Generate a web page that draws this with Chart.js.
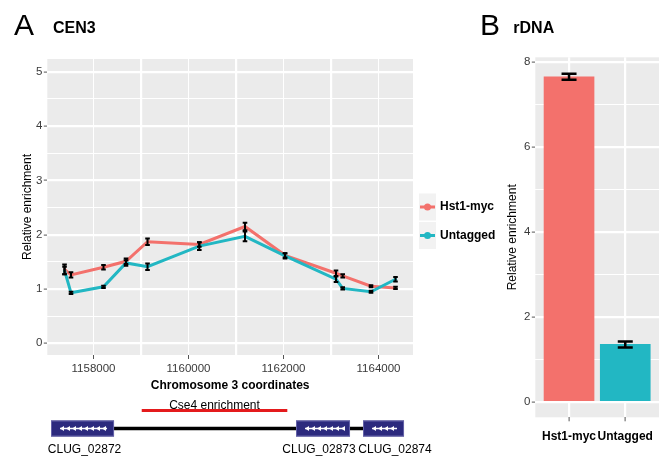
<!DOCTYPE html>
<html>
<head>
<meta charset="utf-8">
<script src="https://cdn.jsdelivr.net/npm/chart.js@4.4.1/dist/chart.umd.min.js"></script>
<style>
  body { margin: 0; background: #fff; }
  #wrap { position: relative; width: 659px; height: 456px; overflow: hidden; }
  canvas { position: absolute; top: 0; }
  #cenChart { left: 0; }
  #rdnaChart { left: 478px; }
</style>
</head>
<body>
<div id="wrap">
  <canvas id="cenChart" width="659" height="456"></canvas>
  <canvas id="rdnaChart" width="181" height="456"></canvas>
</div>
<script>
// panel A: CEN3 ChIP-qPCR across chromosome 3
const positions = [1157390, 1157526, 1158210, 1158684, 1159137, 1160227, 1161189, 1162032, 1163105, 1163246, 1163842, 1164358];
const hstVals = [1.36, 1.26, 1.40, 1.51, 1.87, 1.82, 2.15, 1.62, 1.29, 1.24, 1.05, 1.02];
const hstErr  = [0.09, 0.05, 0.04, 0.05, 0.06, 0.04, 0.07, 0.04, 0.05, 0.03, 0.02, 0.02];
const untVals = [1.34, 0.93, 1.04, 1.48, 1.41, 1.79, 1.97, 1.61, 1.18, 1.01, 0.95, 1.18];
const untErr  = [0.07, 0.02, 0.02, 0.05, 0.06, 0.07, 0.09, 0.05, 0.05, 0.02, 0.02, 0.04];
const seriesNames = ['Hst1-myc', 'Untagged'];
const xTicks = [1158000, 1159000, 1160000, 1161000, 1162000, 1163000, 1164000];
const yTicksA = [0, 0.5, 1, 1.5, 2, 2.5, 3, 3.5, 4, 4.5, 5];

// gene track under panel A (chromosome coordinates)
const geneNames = ['CLUG_02872', 'CLUG_02873', 'CLUG_02874'];
const geneStart = [1157105, 1162263, 1163674];
const geneEnd   = [1158432, 1163400, 1164537];
const geneLabelAt = [1157811, 1162747, 1164347];
const cse4Region = [1159015, 1162080];

// panel B: rDNA
const barCats = ['Hst1-myc', 'Untagged'];
const barVals = [7.66, 1.35];
const barErr  = [0.07, 0.07];
const yTicksB = [0, 1, 2, 3, 4, 5, 6, 7, 8];

const RED = '#F3716C';
const TEAL = '#22B7C3';
const FONT = '"Liberation Sans", Arial, Helvetica, sans-serif';
const isInt = v => Math.abs(v - Math.round(v)) < 1e-6;
const setTicks = vals => s => { s.ticks = vals.map(v => ({ value: v })); };

const panelBg = {
  id: 'panelBg',
  beforeDraw(chart) {
    const a = chart.chartArea, c = chart.ctx;
    c.save();
    c.fillStyle = '#EBEBEB';
    c.fillRect(a.left, a.top, a.right - a.left, a.bottom - a.top);
    c.restore();
  }
};

const errorBars = {
  id: 'errorBars',
  afterDatasetsDraw(chart, args, opts) {
    const c = chart.ctx, ys = chart.scales.y;
    c.save();
    c.strokeStyle = '#000';
    c.lineWidth = opts.width;
    chart.data.datasets.forEach((ds, i) => {
      const meta = chart.getDatasetMeta(i);
      ds.errors.forEach((e, j) => {
        const v = ds.data[j].y;
        const x = meta.data[j].x;
        const y1 = ys.getPixelForValue(v - e), y2 = ys.getPixelForValue(v + e);
        c.beginPath();
        c.moveTo(x, y1); c.lineTo(x, y2);
        c.moveTo(x - opts.cap, y1); c.lineTo(x + opts.cap, y1);
        c.moveTo(x - opts.cap, y2); c.lineTo(x + opts.cap, y2);
        c.stroke();
      });
    });
    c.restore();
  }
};

const headings = {
  id: 'headings',
  afterDraw(chart, args, opts) {
    const c = chart.ctx;
    c.save();
    c.fillStyle = '#000';
    c.textBaseline = 'alphabetic';
    c.font = '30px ' + FONT;
    c.fillText(opts.letter, opts.x, 34.5);
    c.font = 'bold 16px ' + FONT;
    c.fillText(opts.title, opts.x + opts.gap, 32.5);
    c.restore();
  }
};

const sideLegend = {
  id: 'sideLegend',
  afterDraw(chart) {
    const c = chart.ctx;
    c.save();
    chart.data.datasets.forEach((ds, i) => {
      const top = 193.5 + i * 28.5;
      const cy = top + 13.5;
      c.fillStyle = '#F2F2F2';
      c.fillRect(419, top, 17, 27);
      c.strokeStyle = ds.borderColor;
      c.lineWidth = 3;
      c.beginPath(); c.moveTo(420, cy); c.lineTo(435, cy); c.stroke();
      c.fillStyle = ds.borderColor;
      c.beginPath(); c.arc(427.5, cy, 3.5, 0, Math.PI * 2); c.fill();
      c.fillStyle = '#000';
      c.font = 'bold 12px ' + FONT;
      c.textBaseline = 'middle';
      c.fillText(ds.label, 440, cy);
    });
    c.restore();
  }
};

const geneTrack = {
  id: 'geneTrack',
  afterDraw(chart) {
    const c = chart.ctx, xs = chart.scales.x;
    const px = v => xs.getPixelForValue(v);
    c.save();
    // Cse4 region
    c.strokeStyle = '#E41A1C';
    c.lineWidth = 3;
    c.beginPath(); c.moveTo(px(cse4Region[0]), 410.5); c.lineTo(px(cse4Region[1]), 410.5); c.stroke();
    c.fillStyle = '#000';
    c.font = '12px ' + FONT;
    c.textAlign = 'center';
    c.textBaseline = 'alphabetic';
    c.fillText('Cse4 enrichment', (px(cse4Region[0]) + px(cse4Region[1])) / 2, 408.5);
    // backbone
    c.strokeStyle = '#000';
    c.lineWidth = 3.5;
    c.beginPath(); c.moveTo(px(geneEnd[0]), 428.5); c.lineTo(px(geneStart[2]), 428.5); c.stroke();
    geneNames.forEach((name, i) => {
      const x0 = px(geneStart[i]), x1 = px(geneEnd[i]);
      c.fillStyle = '#2C2A7E';
      c.fillRect(x0, 420.5, x1 - x0, 16);
      c.strokeStyle = '#6462A8';
      c.lineWidth = 1;
      c.strokeRect(x0 + 0.5, 421, x1 - x0 - 1, 15);
      // strand arrows (minus strand)
      c.strokeStyle = '#fff';
      c.fillStyle = '#fff';
      c.lineWidth = 1.5;
      const a0 = x0 + 9, a1 = x1 - 7;
      c.beginPath(); c.moveTo(a0, 428.5); c.lineTo(a1, 428.5); c.stroke();
      for (let ax = a0; ax < a1 - 2; ax += 6) {
        c.beginPath();
        c.moveTo(ax, 428.5); c.lineTo(ax + 4, 426); c.lineTo(ax + 4, 431); c.closePath();
        c.fill();
      }
      c.fillStyle = '#000';
      c.font = '12px ' + FONT;
      c.textAlign = 'center';
      c.fillText(name, px(geneLabelAt[i]), 453);
    });
    c.restore();
  }
};

new Chart(document.getElementById('cenChart'), {
  type: 'line',
  data: {
    datasets: [
      {
        label: seriesNames[0],
        data: positions.map((p, i) => ({ x: p, y: hstVals[i] })),
        errors: hstErr,
        borderColor: RED, backgroundColor: RED,
        borderWidth: 3, pointRadius: 1.5, pointBorderWidth: 0,
        tension: 0, order: 1
      },
      {
        label: seriesNames[1],
        data: positions.map((p, i) => ({ x: p, y: untVals[i] })),
        errors: untErr,
        borderColor: TEAL, backgroundColor: TEAL,
        borderWidth: 3, pointRadius: 1.5, pointBorderWidth: 0,
        tension: 0, order: 0
      }
    ]
  },
  options: {
    responsive: false,
    animation: false,
    layout: { padding: { top: 59, left: 0, right: 246, bottom: 62 } },
    plugins: {
      legend: { display: false },
      tooltip: { enabled: false },
      errorBars: { width: 2, cap: 2.3 },
      headings: { letter: 'A', title: 'CEN3', x: 14, gap: 39 }
    },
    scales: {
      x: {
        type: 'linear',
        min: 1157027, max: 1164726,
        afterBuildTicks: setTicks(xTicks),
        afterFit: s => { s.height = 39; },
        border: { display: false },
        grid: {
          color: '#fff',
          lineWidth: c => (c.tick && Math.round(c.tick.value) % 2000 === 0) ? 1 : 2.2,
          tickColor: c => (c.tick && Math.round(c.tick.value) % 2000 === 0) ? '#555' : 'rgba(0,0,0,0)',
          tickWidth: 1, tickLength: 4
        },
        ticks: {
          autoSkip: false, maxRotation: 0,
          padding: 3, color: '#3a3a3a', font: { family: FONT, size: 11.5 },
          callback: v => Math.round(v) % 2000 === 0 ? String(Math.round(v)) : ''
        },
        title: {
          display: true, text: 'Chromosome 3 coordinates', color: '#000',
          font: { family: FONT, size: 12, weight: 'bold' }, padding: { top: 0, bottom: 1 }
        }
      },
      y: {
        min: -0.215, max: 5.234,
        afterBuildTicks: setTicks(yTicksA),
        afterFit: s => { s.width = 47.3; },
        border: { display: false },
        grid: {
          color: '#fff',
          lineWidth: c => (c.tick && isInt(c.tick.value)) ? 2.2 : 1,
          tickColor: c => (c.tick && isInt(c.tick.value)) ? '#555' : 'rgba(0,0,0,0)',
          tickWidth: 1, tickLength: 3.5
        },
        ticks: {
          autoSkip: false,
          padding: 1.5, color: '#3a3a3a', font: { family: FONT, size: 11.5 },
          callback: v => isInt(v) ? String(Math.round(v)) : ''
        },
        title: {
          display: true, text: 'Relative enrichment', color: '#000',
          font: { family: FONT, size: 12 }, padding: { top: 20, bottom: 0 }
        }
      }
    }
  },
  plugins: [panelBg, errorBars, headings, sideLegend, geneTrack]
});

new Chart(document.getElementById('rdnaChart'), {
  type: 'bar',
  data: {
    datasets: [{
      data: barCats.map((c, i) => ({ x: i + 1, y: barVals[i] })),
      errors: barErr,
      backgroundColor: [RED, TEAL],
      barThickness: 50
    }]
  },
  options: {
    responsive: false,
    animation: false,
    layout: { padding: { top: 57.3, left: 0, right: 0, bottom: 0 } },
    plugins: {
      legend: { display: false },
      tooltip: { enabled: false },
      errorBars: { width: 2.5, cap: 7.5 },
      headings: { letter: 'B', title: 'rDNA', x: 2, gap: 33.3 }
    },
    scales: {
      x: {
        type: 'linear',
        offset: false,
        min: 0.4, max: 2.6,
        afterBuildTicks: setTicks([1, 2]),
        afterFit: s => { s.height = 38.7; s.paddingLeft = 0; s.paddingRight = 0; },
        border: { display: false },
        grid: { offset: false, color: '#fff', lineWidth: 2.2, tickColor: '#555', tickWidth: 1, tickLength: 4 },
        ticks: {
          autoSkip: false, maxRotation: 0, padding: 8, color: '#000',
          font: { family: FONT, size: 12, weight: 'bold' },
          callback: v => barCats[Math.round(v) - 1]
        }
      },
      y: {
        min: -0.368, max: 8.118,
        afterBuildTicks: setTicks(yTicksB),
        afterFit: s => { s.width = 57.3; },
        border: { display: false },
        grid: {
          color: '#fff',
          lineWidth: c => (c.tick && Math.round(c.tick.value) % 2 === 0) ? 2.2 : 1,
          tickColor: c => (c.tick && Math.round(c.tick.value) % 2 === 0) ? '#555' : 'rgba(0,0,0,0)',
          tickWidth: 1, tickLength: 3.5
        },
        ticks: {
          autoSkip: false,
          padding: 1.5, color: '#3a3a3a', font: { family: FONT, size: 11.5 },
          callback: v => Math.round(v) % 2 === 0 ? String(Math.round(v)) : ''
        },
        title: {
          display: true, text: 'Relative enrichment', color: '#000',
          font: { family: FONT, size: 12 }, padding: { top: 27, bottom: 0 }
        }
      }
    }
  },
  plugins: [panelBg, errorBars, headings]
});
</script>
</body>
</html>
